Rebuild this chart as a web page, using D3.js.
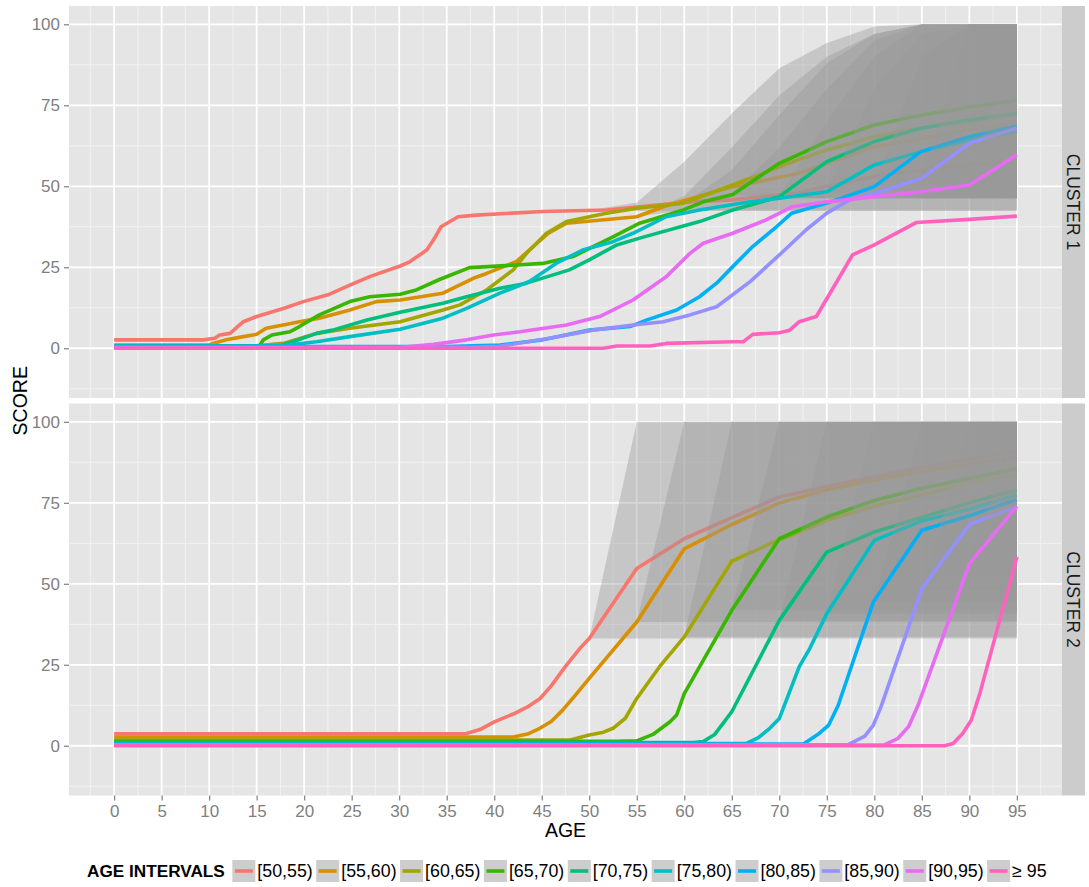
<!DOCTYPE html>
<html><head><meta charset="utf-8">
<script src="https://cdn.jsdelivr.net/npm/d3@7"></script>
<style>
body{margin:0;background:#fff}
text{font-family:"Liberation Sans",Arial,Helvetica,sans-serif}
</style></head>
<body><svg id="chart" width="1089" height="887"></svg>
<script>
// ---------------- data ----------------
const intervals = ["[50,55)","[55,60)","[60,65)","[65,70)","[70,75)","[75,80)","[80,85)","[85,90)","[90,95)","\u2265 95"];
const colors = ["#F8766D","#D89000","#A3A500","#39B600","#00BF7D","#00BFC4","#00B0F6","#9590FF","#E76BF3","#FF62BC"];
const clusters = ["CLUSTER 1","CLUSTER 2"];
const xTickValues = [0,5,10,15,20,25,30,35,40,45,50,55,60,65,70,75,80,85,90,95];
const yTickValues = [0,25,50,75,100];
const xMinor = [-2.5,2.5,7.5,12.5,17.5,22.5,27.5,32.5,37.5,42.5,47.5,52.5,57.5,62.5,67.5,72.5,77.5,82.5,87.5,92.5,97.5];
const yMinor = [-12.5,12.5,37.5,62.5,87.5];
const ribbonStarts = [50,55,60,65,70,75,80,85,90,95];

// cluster 1 lines: [age, score]
const cluster1Lines = [
 [[0,2.6],[9.4,2.6],[10.6,3.1],[11.1,4.1],[12.2,4.6],[13.6,8.2],[15,9.8],[17.8,12.3],[19.9,14.4],[22.5,16.5],[24.8,19.5],[26.9,22.1],[30.1,25.4],[31.1,26.7],[32.9,30.3],[33.6,33.4],[34.4,37.5],[36.2,40.6],[38.1,41.1],[45.1,42.2],[51.8,42.7],[55.3,43.7],[60.6,45.2],[65.1,45.8],[72.1,48],[75,50],[80,53],[85,55],[90,56.5],[95,58]],
 [[0,1.0],[10,1.0],[10.4,1.5],[11.8,2.6],[13.6,3.6],[15,4.3],[16,6.2],[17.8,7.2],[19.5,8.2],[21.6,9.3],[24.8,11.8],[27.6,14.4],[30.1,14.9],[34.6,17],[37.8,21.6],[39.2,23.1],[42.3,26.7],[45.7,35.5],[47.6,38.6],[55,40.6],[57.8,43.7],[60.2,45.8],[65.1,49.9],[72.1,54],[80,62.2],[90,67.4],[95,69.5]],
 [[0,0.8],[15,0.8],[17.8,1.5],[21.3,4.6],[24.8,6.2],[30.1,8.2],[34.6,11.8],[36.4,13.4],[39.2,18],[42,24.2],[43.4,29.3],[45.5,35.5],[47.6,39.1],[51.8,41.7],[55,43.2],[59.9,44.8],[65.1,50.4],[70,56],[72.1,58.3],[75,61.2],[80,65.3],[85,68],[90,70],[95,72]],
 [[0,0.8],[15.3,0.8],[15.7,2.6],[16.6,4.1],[18.5,5.1],[19.5,6.7],[21.6,10.3],[24.8,14.4],[26.9,15.9],[30.1,16.7],[31.8,18],[34.3,21.3],[37.4,24.9],[42.3,25.7],[45.1,26.2],[48.3,28.3],[50.4,31.4],[52.5,34.4],[55.3,38.6],[59.9,42.7],[62,45.2],[65.1,47.5],[70,57.1],[75,63.8],[80,68.9],[85,72],[90,74.4],[95,76.6]],
 [[0,0.8],[17.5,0.8],[18.8,2],[21.3,4.6],[23,5.6],[26.6,8.7],[30.1,11.1],[34.6,13.9],[37.1,15.9],[40.6,18.5],[43.4,20.1],[47.9,24.2],[50,27.3],[52.9,31.9],[55.3,34],[61.6,39.1],[65.1,42.7],[70,46.8],[75,57.6],[80,63.8],[84.9,67.9],[90,70.5],[95,72.5]],
 [[0,0.7],[17,0.7],[18.1,0.9],[21.3,2],[24.8,3.6],[30.1,5.9],[34.6,9.3],[37.1,12.3],[40.6,17],[43.7,20.6],[46.5,26.2],[49.3,30.3],[52.5,32.9],[54.6,35.5],[58.1,40.6],[61.6,42.7],[66.9,45.2],[70,46.3],[75,48.3],[80,56.6],[84.9,60.7],[90,64.3],[95,66.9]],
 [[0,0.5],[35,0.5],[40.6,1],[45.1,2.6],[50,5.6],[54.3,6.7],[56,8.7],[59.2,11.8],[61.6,15.9],[63.4,20.1],[65.1,25.2],[67.2,31.4],[69.7,37.5],[71.3,41.7],[75,44.8],[80,49.9],[84.9,60.7],[90,65.3],[95,68.6]],
 [[0,0.3],[38,0.3],[40.6,0.6],[45.8,3.1],[50.4,5.6],[54.6,7.2],[57.8,8.2],[60.6,10.3],[63.4,12.8],[66.9,20.5],[70,28.8],[72.8,36.5],[75,41.7],[77.4,45.8],[80,47.8],[84.9,52.3],[90,63.3],[95,67.9]],
 [[0,0.1],[30,0.2],[33.6,1.2],[37.1,2.6],[39.9,4.1],[42.7,5.1],[47.6,7.2],[51.1,9.8],[54.6,14.9],[58.1,22.1],[60.6,29.3],[62,32.4],[65.1,35.5],[68.6,39.6],[71.4,43.7],[75,45.2],[80,46.8],[84.9,48.3],[90,50.4],[95,59.7]],
 [[0,0],[51.5,0],[52.9,0.7],[56.4,0.7],[58.1,1.5],[65.1,2],[66.2,2],[67.2,4.3],[70,4.8],[71.1,5.6],[72.1,8.2],[73.9,9.8],[77.7,28.8],[80,31.9],[84.4,38.8],[90,39.8],[95,40.8]]
];

// cluster 2 lines
const cluster2Lines = [
 [[0,3.7],[37,3.7],[38.5,5],[40,7.4],[42,9.8],[43.5,12],[44.8,14.5],[46,18.5],[47.5,24.5],[49,30],[50,33.1],[55,54.7],[60,63.9],[65,70.4],[70,76.8],[75,80],[80,83],[85,86],[90,88.5],[95,91]],
 [[0,2.7],[42,2.7],[43.5,3.6],[44.8,5.4],[46,7.5],[47.2,11],[48.5,15.5],[50,20.8],[55,38.2],[60,60.8],[65,68.3],[70,74.9],[75,79],[80,82],[85,84.7],[90,87],[95,89.1]],
 [[0,1.8],[48,1.8],[50,3.3],[51.5,4.2],[52.5,5.4],[53.8,8.5],[55,14.6],[57.4,24.4],[60,33.6],[65,57],[70,63.6],[72.1,66],[75,69.5],[80,74],[85,77.5],[90,81],[95,83.8]],
 [[0,1.4],[53,1.4],[55,1.5],[56.7,3.5],[58.5,7.4],[59.2,9.5],[60,16.1],[65,41.8],[70,63.9],[75,70.6],[80,75.7],[85,79.5],[90,82.5],[95,85.5]],
 [[0,1.0],[61,1.0],[62,1.3],[63.2,3.5],[64.2,7.4],[65,10.5],[70,38.7],[75,59.8],[80,66],[85,70.5],[90,75],[95,79]],
 [[0,0.7],[66.5,0.7],[67.8,2.5],[69,5.4],[70,8.4],[72.1,24.4],[73.2,30],[75,40.8],[80,63.4],[85,69.4],[90,73],[95,77.5]],
 [[0,0.5],[72.5,0.5],[74.2,3.8],[75.2,6.4],[76.2,12.5],[79.9,44.4],[85,66.5],[90,71],[95,76]],
 [[0,0.3],[77.2,0.3],[79,3],[79.9,6.4],[80.7,12],[85,48.5],[90,68.3],[95,73.9]],
 [[0,0.2],[81,0.2],[82.5,2.3],[83.6,5.9],[84.6,12.5],[90,56.2],[95,73.9]],
 [[0,0],[87.4,0],[88.3,0.7],[89.3,3.8],[90.2,7.9],[91.1,16.1],[95,58.3]]
];

// ribbons: values at ages start, start+5, ..., 95
const cluster1RibbonUpper = [
 [42.6,45,57.6,72.5,86.4,94.2,99.3,100,100,100],
 [40.6,47,62,78,90,97,100,100,100],
 [44.8,55,72,88,97,100,100,100],
 [47.5,62,80,95,100,100,100],
 [46.8,70,90,100,100,100],
 [48.3,80,97,100,100],
 [49.9,90,100,100],
 [52.3,100,100],
 [50.4,100],
 [40.8]
];
const cluster1RibbonLower = [
 [42.6,42.4,42.4,42.4,42.4,42.4,42.4,42.4,42.4,42.4],
 [40.6,42.6,42.6,42.6,42.6,42.6,42.6,42.6,42.6],
 [44.8,46.3,46.3,46.3,46.3,46.3,46.3,46.3],
 [47.5,46.3,46.3,46.3,46.3,46.3,46.3],
 [46.8,46.3,46.3,46.3,46.3,46.3],
 [48.3,46.3,46.3,46.3,46.3],
 [49.9,46.3,46.3,46.3],
 [52.3,46.3,46.3],
 [50.4,46.3],
 [40.8]
];
const cluster2RibbonUpper = [
 [33.1,100,100,100,100,100,100,100,100,100],
 [38.2,100,100,100,100,100,100,100,100],
 [33.6,100,100,100,100,100,100,100],
 [41.8,100,100,100,100,100,100],
 [38.7,100,100,100,100,100],
 [40.8,100,100,100,100],
 [44.4,100,100,100],
 [48.5,100,100],
 [56.2,100],
 [58.3]
];
const cluster2RibbonLower = [
 [33.1,33.1,33.1,33.1,33.1,33.1,33.1,33.1,33.1,33.1],
 [38.2,38.2,38.2,38.2,38.2,38.2,38.2,38.2,38.2],
 [33.6,33.6,33.6,33.6,33.6,33.6,33.6,33.6],
 [41.8,41.8,41.8,41.8,41.8,41.8,41.8],
 [38.7,38.7,38.7,38.7,38.7,38.7],
 [40.8,40.8,40.8,40.8,40.8],
 [44.4,44.4,44.4,44.4],
 [48.5,48.5,48.5],
 [56.2,56.2],
 [58.3]
];

// ---------------- layout ----------------
const svg = d3.select("#chart");
const panelLeft = 69, panelRight = 1062, panelH = 392;
const panelTops = [6, 403.5];
const stripW = 23;
const grey50 = "#7F7F7F";

const x = d3.scaleLinear().domain([-4.75, 99.75]).range([panelLeft, panelRight]);

const panelsData = [
  {lines: cluster1Lines, up: cluster1RibbonUpper, lo: cluster1RibbonLower},
  {lines: cluster2Lines, up: cluster2RibbonUpper, lo: cluster2RibbonLower}
];

const defs = svg.append("defs");

panelsData.forEach((pd, p) => {
  const top = panelTops[p];
  const y = d3.scaleLinear().domain([-15.35, 105.65]).range([top + panelH, top]);
  const g = svg.append("g");
  defs.append("clipPath").attr("id", "clip" + p).append("rect")
    .attr("x", panelLeft).attr("y", top).attr("width", panelRight - panelLeft).attr("height", panelH);

  g.append("rect").attr("x", panelLeft).attr("y", top).attr("width", panelRight - panelLeft)
    .attr("height", panelH).attr("fill", "#E5E5E5");

  // minor grid
  g.selectAll(".xm").data(xMinor).enter().append("line")
    .attr("x1", d => x(d)).attr("x2", d => x(d)).attr("y1", top).attr("y2", top + panelH)
    .attr("stroke", "#F2F2F2").attr("stroke-width", 1);
  g.selectAll(".ym").data(yMinor).enter().append("line")
    .attr("x1", panelLeft).attr("x2", panelRight).attr("y1", d => y(d)).attr("y2", d => y(d))
    .attr("stroke", "#F2F2F2").attr("stroke-width", 1);
  // major grid
  g.selectAll(".xM").data(xTickValues).enter().append("line")
    .attr("x1", d => x(d)).attr("x2", d => x(d)).attr("y1", top).attr("y2", top + panelH)
    .attr("stroke", "#FFFFFF").attr("stroke-width", 1.8);
  g.selectAll(".yM").data(yTickValues).enter().append("line")
    .attr("x1", panelLeft).attr("x2", panelRight).attr("y1", d => y(d)).attr("y2", d => y(d))
    .attr("stroke", "#FFFFFF").attr("stroke-width", 1.8);

  const plot = g.append("g").attr("clip-path", "url(#clip" + p + ")");
  const area = d3.area().x(d => x(d[0])).y0(d => y(d[1])).y1(d => y(d[2]));
  const line = d3.line().x(d => x(d[0])).y(d => y(d[1]));

  intervals.forEach((name, i) => {
    const rib = pd.up[i].map((u, k) => [ribbonStarts[i] + 5 * k, pd.lo[i][k], u]);
    if (rib.length > 1) {
      plot.append("path").datum(rib).attr("d", area)
        .attr("fill", "#999999").attr("fill-opacity", 0.4).attr("stroke", "none");
    }
    plot.append("path").datum(pd.lines[i]).attr("d", line)
      .attr("fill", "none").attr("stroke", colors[i]).attr("stroke-width", 3.6)
      .attr("stroke-linejoin", "round").attr("stroke-linecap", "butt");
  });

  // strip
  g.append("rect").attr("x", panelRight).attr("y", top).attr("width", stripW).attr("height", panelH)
    .attr("fill", "#CCCCCC");
  g.append("text").attr("transform", `translate(${panelRight + stripW / 2},${top + panelH / 2}) rotate(90)`)
    .attr("text-anchor", "middle").attr("dy", "0.36em").attr("font-size", 17.5).attr("fill", "#1A1A1A")
    .text(clusters[p]);

  // y axis
  const ya = g.append("g").attr("transform", `translate(${panelLeft},0)`)
    .call(d3.axisLeft(y).tickValues(yTickValues).tickSize(5).tickPadding(4));
  ya.select(".domain").remove();
  ya.selectAll("line").attr("stroke", grey50).attr("stroke-width", 1.2);
  ya.selectAll("text").attr("fill", grey50).attr("font-size", 17)
    .attr("font-family", '"Liberation Sans",Arial,sans-serif');
});

// x axis
const xa = svg.append("g").attr("transform", `translate(0,${panelTops[1] + panelH})`)
  .call(d3.axisBottom(x).tickValues(xTickValues).tickSize(5).tickPadding(4));
xa.select(".domain").remove();
xa.selectAll("line").attr("stroke", grey50).attr("stroke-width", 1.2);
xa.selectAll("text").attr("fill", grey50).attr("font-size", 17)
  .attr("font-family", '"Liberation Sans",Arial,sans-serif');

// axis titles
svg.append("text").attr("x", (panelLeft + panelRight) / 2).attr("y", 836.5)
  .attr("text-anchor", "middle").attr("font-size", 19.5).attr("fill", "#000").text("AGE");
svg.append("text").attr("transform", `translate(27,${(panelTops[0] + panelTops[1] + panelH) / 2}) rotate(-90)`)
  .attr("text-anchor", "middle").attr("font-size", 19.5).attr("fill", "#000").text("SCORE");

// legend
const leg = svg.append("g");
const legCy = 871;
const title = leg.append("text").attr("x", 87).attr("y", legCy).attr("dy", "0.36em")
  .attr("font-size", 17.2).attr("font-weight", "bold").attr("fill", "#000").text("AGE INTERVALS");
let cursor = 87 + title.node().getComputedTextLength() + 7.5;
intervals.forEach((name, i) => {
  leg.append("rect").attr("x", cursor).attr("y", legCy - 11).attr("width", 23).attr("height", 22)
    .attr("fill", "#CDCDCD");
  leg.append("line").attr("x1", cursor + 2.5).attr("x2", cursor + 20.5).attr("y1", legCy).attr("y2", legCy)
    .attr("stroke", colors[i]).attr("stroke-width", 3.6);
  const t = leg.append("text").attr("x", cursor + 25).attr("y", legCy).attr("dy", "0.36em")
    .attr("font-size", 17.8).attr("fill", "#000").text(name);
  cursor += 25 + t.node().getComputedTextLength() + 3.5;
});
</script></body></html>
